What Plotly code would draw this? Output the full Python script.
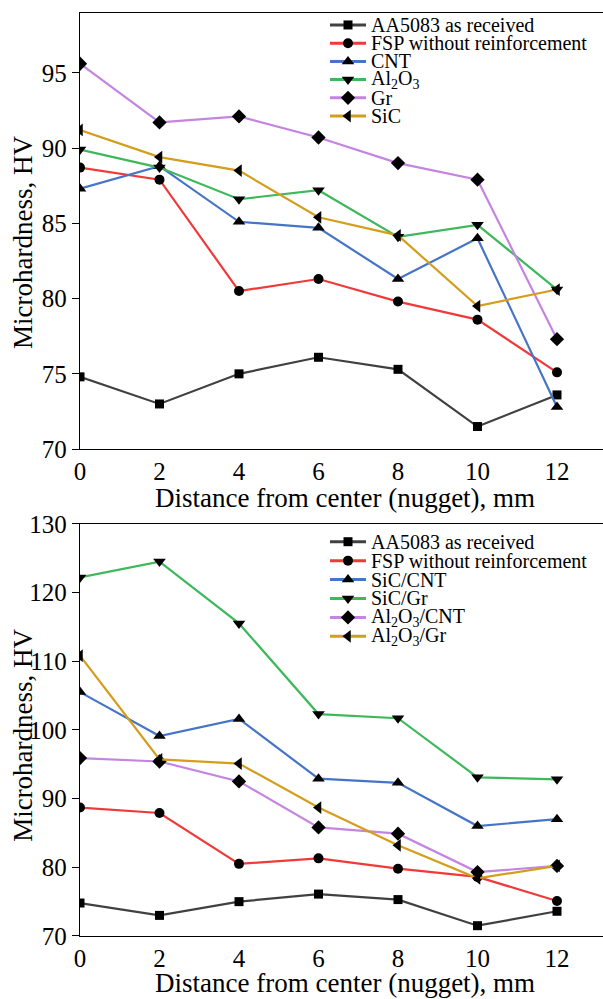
import plotly.graph_objects as go

distance = [0, 2, 4, 6, 8, 10, 12]

# Top panel
aa5083 = [74.8, 73.0, 75.0, 76.1, 75.3, 71.5, 73.6]
fsp = [88.7, 87.9, 80.5, 81.3, 79.8, 78.6, 75.1]
cnt = [87.3, 88.8, 85.1, 84.7, 81.3, 84.0, 72.8]
al2o3 = [89.9, 88.7, 86.6, 87.2, 84.1, 84.9, 80.6]
gr = [95.6, 91.7, 92.1, 90.7, 89.0, 87.9, 77.3]
sic = [91.2, 89.4, 88.5, 85.4, 84.2, 79.5, 80.6]

# Bottom panel
sic_cnt = [105.5, 99.1, 101.6, 92.9, 92.3, 86.0, 87.0]
sic_gr = [122.2, 124.5, 115.5, 102.3, 101.7, 93.1, 92.8]
al2o3_cnt = [95.9, 95.4, 92.5, 85.8, 84.9, 79.3, 80.2]
al2o3_gr = [110.8, 95.7, 95.1, 88.7, 83.2, 78.4, 80.2]

top_names = ["AA5083 as received", "FSP without reinforcement", "CNT",
             "Al<sub>2</sub>O<sub>3</sub>", "Gr", "SiC"]
bot_names = ["AA5083 as received", "FSP without reinforcement", "SiC/CNT",
             "SiC/Gr", "Al<sub>2</sub>O<sub>3</sub>/CNT", "Al<sub>2</sub>O<sub>3</sub>/Gr"]

y_ticks_top = [70, 75, 80, 85, 90, 95]
y_ticks_bot = [70, 80, 90, 100, 110, 120, 130]
x_title = "Distance from center (nugget), mm"
y_title = "Microhardness, HV"

colors = ["#404040", "#f03a3a", "#4674c6", "#3db85a", "#c484e0", "#d49e1c"]
symbols = ["square", "circle", "triangle-up", "triangle-down", "diamond", "triangle-left"]
sizes = [9, 10, 11, 11, 11, 11]

FONT = "Liberation Serif, serif"

W, H = 603, 999
ML, MR, MT, MB = 80, 0, 9, 63

fig = go.Figure()

for name, vals, c, s, sz in zip(top_names, [aa5083, fsp, cnt, al2o3, gr, sic], colors, symbols, sizes):
    fig.add_trace(go.Scatter(x=distance, y=vals, name=name, mode="lines+markers",
                             line=dict(color=c, width=2.2),
                             marker=dict(symbol=s, size=sz, color="black"),
                             xaxis="x", yaxis="y", showlegend=False))

for name, vals, c, s, sz in zip(bot_names, [aa5083, fsp, sic_cnt, sic_gr, al2o3_cnt, al2o3_gr], colors, symbols, sizes):
    fig.add_trace(go.Scatter(x=distance, y=vals, name=name, mode="lines+markers",
                             line=dict(color=c, width=2.2),
                             marker=dict(symbol=s, size=sz, color="black"),
                             xaxis="x2", yaxis="y2", showlegend=False))

PX0, PX1 = ML, W - MR
PY_TOP, PY_BOT = MT, H - MB


def px_x(p):
    return (p - PX0) / (PX1 - PX0)


def px_y(p):
    return (PY_BOT - p) / (PY_BOT - PY_TOP)


def add_legend(names, y0, step):
    for i, (name, c, s, sz) in enumerate(zip(names, colors, symbols, sizes)):
        yy = y0 + i * step
        fig.add_trace(go.Scatter(x=[330, 366], y=[yy, yy], mode="lines",
                                 line=dict(color=c, width=3),
                                 xaxis="x3", yaxis="y3", showlegend=False, hoverinfo="skip"))
        fig.add_trace(go.Scatter(x=[348], y=[yy], mode="markers",
                                 marker=dict(symbol=s, size=sz, color="black"),
                                 xaxis="x3", yaxis="y3", showlegend=False, hoverinfo="skip"))
        fig.add_annotation(x=px_x(369), y=px_y(yy), xref="paper", yref="paper", text=name,
                           showarrow=False, xanchor="left", yanchor="middle",
                           font=dict(family=FONT, size=20, color="black"))


add_legend(top_names, 21, 18.3)
add_legend(bot_names, 540, 19.0)

# Axis titles
for ty, cy in [(496, 240), (983, 735)]:
    fig.add_annotation(x=px_x((PX0 + PX1) / 2 + 3), y=px_y(ty), xref="paper", yref="paper",
                       text=x_title, showarrow=False, xanchor="center", yanchor="middle",
                       font=dict(family=FONT, size=27, color="black"))
    fig.add_annotation(x=px_x(23), y=px_y(cy), xref="paper", yref="paper", text=y_title,
                       textangle=-90, showarrow=False, xanchor="center", yanchor="middle",
                       font=dict(family=FONT, size=27, color="black"))

axis_common = dict(showgrid=False, zeroline=False, linecolor="black", linewidth=1.3,
                   tickfont=dict(family=FONT, size=25, color="black"))

xr = [0, (PX1 - PX0) / 39.75]
top_dom0 = px_y(447)
bot_dom1 = px_y(522)

fig.update_layout(
    width=W, height=H,
    margin=dict(l=ML, r=MR, t=MT, b=MB),
    plot_bgcolor="rgba(0,0,0,0)", paper_bgcolor="white",
    font=dict(family=FONT, color="black"),
    showlegend=False,
    xaxis=dict(domain=[0, 1], range=xr, tickvals=distance, ticks="", mirror=True,
               showline=True, anchor="y", **axis_common),
    yaxis=dict(domain=[top_dom0, 1], range=[70, 98.97], tickvals=y_ticks_top,
               ticks="outside", ticklen=7, tickcolor="black", showline=True, anchor="x",
               **axis_common),
    xaxis2=dict(domain=[0, 1], range=xr, tickvals=distance, ticks="", mirror=True,
                showline=True, anchor="y2", **axis_common),
    yaxis2=dict(domain=[0, bot_dom1], range=[70, 130], tickvals=y_ticks_bot,
                ticks="outside", ticklen=7, tickcolor="black", showline=True, anchor="x2",
                **axis_common),
    xaxis3=dict(domain=[0, 1], range=[PX0, PX1], visible=False, anchor="y3", fixedrange=True),
    yaxis3=dict(domain=[0, 1], range=[PY_BOT, PY_TOP], visible=False, anchor="x3", fixedrange=True),
)

fig.write_html("out.html")
